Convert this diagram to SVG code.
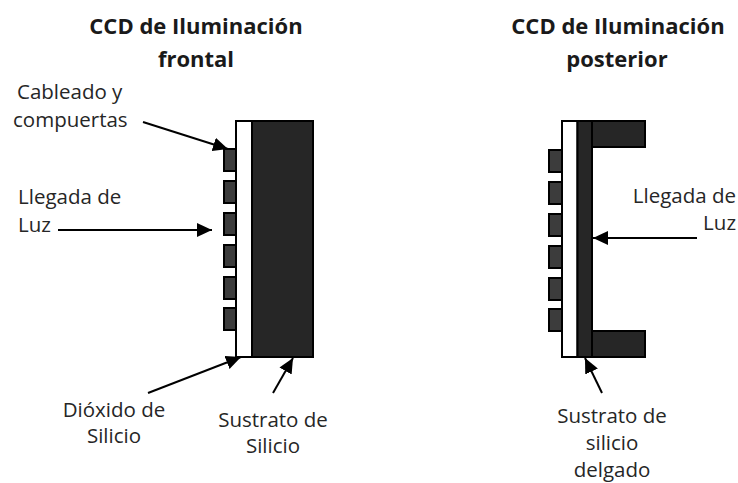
<svg xmlns="http://www.w3.org/2000/svg" width="738" height="483" viewBox="0 0 738 483">
  <style>
    .title { font-family: "Open Sans", "Noto Sans", sans-serif; font-weight: bold; font-size: 22px; fill: #1a1a1a; text-anchor: middle; }
    .lbl { font-family: "Open Sans", "Noto Sans", sans-serif; font-size: 20.5px; fill: #262626; }
    .mid { text-anchor: middle; }
    .end { text-anchor: end; }
    .gate { fill: #3c3c3c; stroke: #000; stroke-width: 2; }
    .oxide { fill: #ffffff; stroke: #000; stroke-width: 2; }
    .sub { fill: #262626; stroke: #000; stroke-width: 2; }
    .arrow { stroke: #000; stroke-width: 2; fill: none; marker-end: url(#ah); }
  </style>
  <defs>
    <marker id="ah" markerUnits="userSpaceOnUse" markerWidth="16" markerHeight="14" refX="15" refY="7" orient="auto">
      <path d="M0,0 L15,7 L0,14 z" fill="#000"/>
    </marker>
  </defs>
  <rect width="738" height="483" fill="#ffffff"/>

  <g id="title-front">
    <text class="title" x="196" y="34">CCD de Iluminación</text>
    <text class="title" x="196" y="67">frontal</text>
  </g>
  <g id="title-back">
    <text class="title" x="618" y="34">CCD de Iluminación</text>
    <text class="title" x="617" y="67">posterior</text>
  </g>

  <g id="ccd-front">
    <rect class="gate" x="224" y="149" width="12" height="22"/>
    <rect class="gate" x="224" y="181" width="12" height="22"/>
    <rect class="gate" x="224" y="213" width="12" height="22"/>
    <rect class="gate" x="224" y="245" width="12" height="22"/>
    <rect class="gate" x="224" y="277" width="12" height="22"/>
    <rect class="gate" x="224" y="308" width="12" height="22"/>
    <rect class="oxide" x="236" y="121" width="16" height="236"/>
    <rect class="sub" x="252" y="121" width="61" height="236"/>
  </g>

  <g id="ccd-back">
    <rect class="gate" x="549" y="150" width="13" height="22"/>
    <rect class="gate" x="549" y="182" width="13" height="22"/>
    <rect class="gate" x="549" y="214" width="13" height="22"/>
    <rect class="gate" x="549" y="246" width="13" height="22"/>
    <rect class="gate" x="549" y="278" width="13" height="22"/>
    <rect class="gate" x="549" y="309" width="13" height="22"/>
    <rect class="oxide" x="562" y="121" width="15.5" height="236"/>
    <rect class="sub" x="592" y="121" width="53" height="26"/>
    <rect class="sub" x="592" y="331" width="53" height="26"/>
    <rect class="sub" x="577.5" y="121" width="14.5" height="236"/>
  </g>

  <g id="connectors">
    <line class="arrow" x1="143" y1="122" x2="228" y2="149"/>
    <line class="arrow" x1="58" y1="230" x2="212" y2="230"/>
    <line class="arrow" x1="148" y1="393" x2="241" y2="357"/>
    <line class="arrow" x1="273" y1="393" x2="293" y2="358"/>
    <line class="arrow" x1="697" y1="238" x2="593" y2="238"/>
    <line class="arrow" x1="602" y1="393" x2="585" y2="358"/>
  </g>

  <g id="label-cableado">
    <text class="lbl" x="17" y="99">Cableado y</text>
    <text class="lbl" x="13" y="127">compuertas</text>
  </g>
  <g id="label-luz-front">
    <text class="lbl" x="18" y="204">Llegada de</text>
    <text class="lbl" x="18" y="232">Luz</text>
  </g>
  <g id="label-dioxido">
    <text class="lbl mid" x="114" y="417">Dióxido de</text>
    <text class="lbl mid" x="114" y="443">Silicio</text>
  </g>
  <g id="label-sustrato-front">
    <text class="lbl mid" x="273" y="427">Sustrato de</text>
    <text class="lbl mid" x="273" y="453">Silicio</text>
  </g>
  <g id="label-luz-back">
    <text class="lbl end" x="736" y="203">Llegada de</text>
    <text class="lbl end" x="736" y="230">Luz</text>
  </g>
  <g id="label-sustrato-back">
    <text class="lbl mid" x="612" y="423">Sustrato de</text>
    <text class="lbl mid" x="612" y="450">silicio</text>
    <text class="lbl mid" x="612" y="477">delgado</text>
  </g>
</svg>
